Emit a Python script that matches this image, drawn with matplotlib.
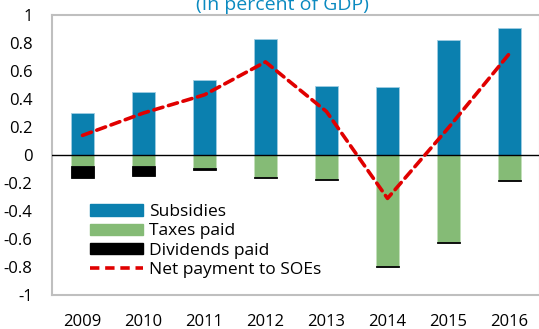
import matplotlib
matplotlib.use("Agg")
import matplotlib.pyplot as plt
import numpy as np
from matplotlib.lines import Line2D
from matplotlib.patches import Patch

plt.rcParams["font.family"] = ["Open Sans", "DejaVu Sans"]

years = ["2009", "2010", "2011", "2012", "2013", "2014", "2015", "2016"]
subsidies = [0.30, 0.45, 0.535, 0.83, 0.49, 0.485, 0.82, 0.91]
taxes_paid = [-0.08, -0.08, -0.095, -0.157, -0.171, -0.795, -0.622, -0.181]
dividends_paid = [-0.084, -0.068, -0.012, -0.006, -0.005, -0.004, -0.004, -0.004]
net_payment = [0.14, 0.30, 0.43, 0.665, 0.31, -0.31, 0.195, 0.725]

BLUE = "#0b80af"
GREEN = "#85bb76"
RED = "#e00000"
GRID = "#bfbfbf"

fig = plt.figure(figsize=(5.39, 3.29), dpi=100)
ax = fig.add_axes([52 / 539, 34 / 329, 488 / 539, 280 / 329])

x = np.arange(len(years))
width = 0.38
ax.bar(x, subsidies, width, color=BLUE, edgecolor="#9fcde3", linewidth=0.6, zorder=2)
ax.bar(x, taxes_paid, width, color=GREEN, edgecolor="#c4e0bb", linewidth=0.6, zorder=2)
ax.bar(x, dividends_paid, width, bottom=taxes_paid, color="black",
       edgecolor="black", linewidth=0.6, zorder=2)
ax.axhline(0, color="black", linewidth=1.0, zorder=3)
ax.plot(x, net_payment, color=RED, linewidth=2.6, linestyle=(0, (2.6, 1.6)),
        dash_capstyle="round", zorder=4)

ax.set_xlim(-0.5, 7.5)
ax.set_ylim(-1, 1)
ax.set_yticks(np.arange(-1, 1.01, 0.2))
ax.set_yticklabels(["-1", "-0.8", "-0.6", "-0.4", "-0.2", "0",
                    "0.2", "0.4", "0.6", "0.8", "1"])
ax.set_xticks(x)
ax.set_xticklabels(years)
ax.tick_params(axis="both", length=0, labelsize=12, colors="black")
ax.tick_params(axis="y", pad=14)
ax.tick_params(axis="x", pad=14)
for side in ["left", "top", "bottom", "right"]:
    ax.spines[side].set_color(GRID)
    ax.spines[side].set_linewidth(1.5)

handles = [
    Patch(facecolor=BLUE, edgecolor=BLUE),
    Patch(facecolor=GREEN, edgecolor=GREEN),
    Patch(facecolor="black", edgecolor="black"),
    Line2D([0], [0], color=RED, linewidth=2.6, linestyle=(0, (2.6, 1.6))),
]
labels = ["Subsidies", "Taxes paid", "Dividends paid", "Net payment to SOEs"]
fig.legend(handles, labels, loc="upper left", bbox_to_anchor=(83 / 539, 1 - 197 / 329),
           frameon=False, fontsize=12.5, handlelength=3.05, handleheight=0.63,
           handletextpad=0.35, labelspacing=0.2, borderaxespad=0)

fig.text(282 / 539, 1 - 10 / 329, "(In percent of GDP)", color="#0b8ac0",
         fontsize=14, ha="center", va="baseline")

fig.savefig("out.png", dpi=100)
